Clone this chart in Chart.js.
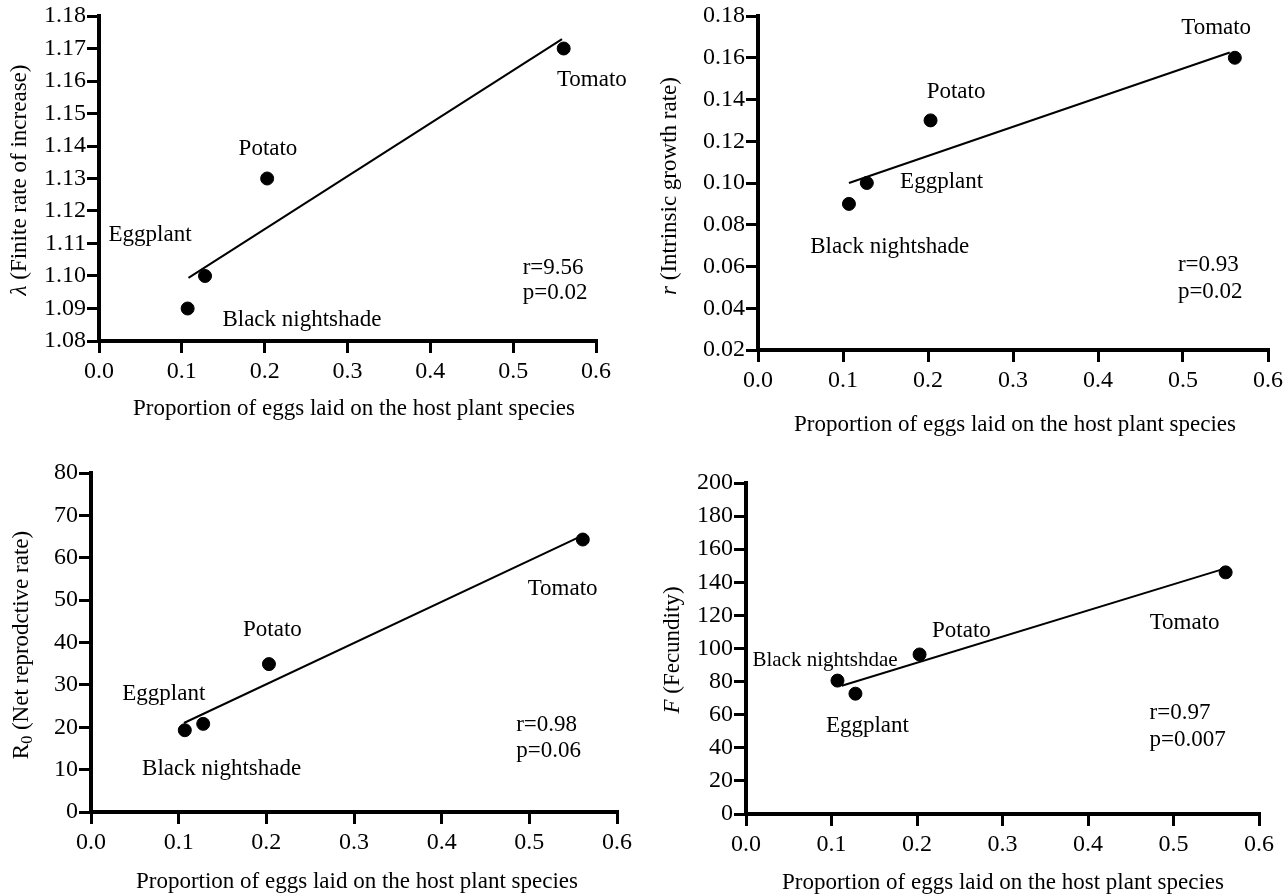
<!DOCTYPE html>
<html lang="en">
<head>
    <meta charset="UTF-8">
    <title>Oviposition preference vs life table parameters</title>
    <script src="https://cdn.jsdelivr.net/npm/chart.js@4.4.1/dist/chart.umd.min.js"></script>
    <style>
        body { margin: 0; background: #fff; }
        #wrap { position: relative; width: 1287px; height: 896px; }
        canvas { position: absolute; }
    </style>
</head>
<body>
<div id="wrap">
    <canvas id="c1" width="640" height="440" style="left:0;top:0"></canvas>
    <canvas id="c2" width="647" height="440" style="left:640px;top:0"></canvas>
    <canvas id="c3" width="640" height="446" style="left:0;top:450px"></canvas>
    <canvas id="c4" width="647" height="446" style="left:640px;top:450px"></canvas>
</div>
<script>
// host plants and proportion of eggs laid on each
var hosts = ['Black nightshade', 'Eggplant', 'Potato', 'Tomato'];
var eggProp = [0.107, 0.128, 0.203, 0.561];

// life table values per host
var lambdaVals = [1.09, 1.10, 1.13, 1.17];
var rVals = [0.09, 0.10, 0.13, 0.16];
var r0Vals = [19.3, 20.8, 34.9, 64.3];
var fecVals = [80.6, 72.7, 96.4, 146];

// fitted line end points
var lambdaFitX = [0.108, 0.559], lambdaFitY = [1.0994, 1.1729];
var rFitX = [0.107, 0.555], rFitY = [0.100, 0.1625];
var r0FitX = [0.106, 0.558], r0FitY = [21, 65];
var fecFitX = [0.112, 0.555], fecFitY = [77.5, 147.5];

// axis ranges [min, max, step]
var xRange = [0, 0.6, 0.1];
var lambdaRange = [1.08, 1.18, 0.01];
var rRange = [0.02, 0.18, 0.02];
var r0Range = [0, 80, 10];
var fecRange = [0, 200, 20];

var FONT = '"Liberation Serif", "Times New Roman", serif';
var xTitle = 'Proportion of eggs laid on the host plant species';

function pts(xs, ys) {
    return xs.map(function (x, i) { return {x: x, y: ys[i]}; });
}

// labels in data units + axis titles in canvas units
var textPlugin = {
    id: 'notes',
    afterDraw: function (chart) {
        var o = chart.options.plugins.notes;
        var ctx = chart.ctx;
        var xs = chart.scales.x, ys = chart.scales.y;
        ctx.save();
        ctx.fillStyle = '#000';
        ctx.textBaseline = 'middle';
        o.labels.forEach(function (l) {
            ctx.font = (l.size || 23) + 'px ' + FONT;
            ctx.textAlign = l.align || 'center';
            ctx.fillText(l.text, xs.getPixelForValue(l.x), ys.getPixelForValue(l.y));
        });

        ctx.font = '23px ' + FONT;
        ctx.textAlign = 'center';
        ctx.fillText(xTitle, o.xTitlePos[0], o.xTitlePos[1]);

        // y title, mixed italic / subscript
        var parts = o.yTitle;
        var total = 0;
        parts.forEach(function (p) {
            ctx.font = (p.italic ? 'italic ' : '') + (p.sub ? 16 : 23) + 'px ' + FONT;
            p.w = ctx.measureText(p.t).width;
            total += p.w;
        });
        ctx.translate(o.yTitlePos[0], o.yTitlePos[1]);
        ctx.rotate(-Math.PI / 2);
        var cx = -total / 2;
        ctx.textAlign = 'left';
        parts.forEach(function (p) {
            ctx.font = (p.italic ? 'italic ' : '') + (p.sub ? 16 : 23) + 'px ' + FONT;
            ctx.fillText(p.t, cx, p.sub ? 6 : 0);
            cx += p.w;
        });
        ctx.restore();
    }
};

function makeChart(id, vals, fitX, fitY, yr, dec, box, labels, yTitle, yTitlePos, xTitlePos) {
    var ctx = document.getElementById(id).getContext('2d');
    return new Chart(ctx, {
        type: 'scatter',
        data: {
            datasets: [{
                data: pts(eggProp, vals),
                pointRadius: 6.5,
                pointBorderWidth: 1,
                pointBackgroundColor: '#000',
                pointBorderColor: '#000',
                showLine: false
            }, {
                data: pts(fitX, fitY),
                showLine: true,
                borderColor: '#000',
                borderWidth: 2,
                pointRadius: 0
            }]
        },
        options: {
            responsive: false,
            animation: false,
            devicePixelRatio: 1,
            layout: { padding: { top: box.top, right: box.right, left: 0, bottom: 0 } },
            plugins: {
                legend: { display: false },
                tooltip: { enabled: false },
                notes: { labels: labels, yTitle: yTitle, yTitlePos: yTitlePos, xTitlePos: xTitlePos }
            },
            scales: {
                x: {
                    type: 'linear',
                    min: xRange[0], max: xRange[1],
                    afterFit: function (s) { s.height = box.bottom; },
                    ticks: {
                        stepSize: xRange[2], color: '#000', padding: 4,
                        font: { family: FONT, size: 24 },
                        callback: function (v) { return v.toFixed(1); }
                    },
                    grid: { drawOnChartArea: false, drawTicks: true, tickLength: 12, color: '#000', lineWidth: 3 },
                    border: { color: '#000', width: 4 }
                },
                y: {
                    type: 'linear',
                    min: yr[0], max: yr[1],
                    afterFit: function (s) { s.width = box.left; },
                    ticks: {
                        stepSize: yr[2], color: '#000', padding: 1,
                        font: { family: FONT, size: 24 },
                        callback: function (v) { return v.toFixed(dec); }
                    },
                    grid: { drawOnChartArea: false, drawTicks: true, tickLength: 12, color: '#000', lineWidth: 3 },
                    border: { color: '#000', width: 4 }
                }
            }
        },
        plugins: [textPlugin]
    });
}

makeChart('c1', lambdaVals, lambdaFitX, lambdaFitY, lambdaRange, 2,
    { left: 99, top: 16, right: 44, bottom: 99 },
    [
        { text: 'Tomato', x: 0.595, y: 1.1603 },
        { text: 'Potato', x: 0.204, y: 1.139 },
        { text: 'Eggplant', x: 0.0616, y: 1.1126 },
        { text: 'Black nightshade', x: 0.245, y: 1.0865 },
        { text: 'r=9.56', x: 0.5115, y: 1.1025, align: 'left' },
        { text: 'p=0.02', x: 0.5115, y: 1.0948, align: 'left' }
    ],
    [{ t: 'λ', italic: true }, { t: ' (Finite rate of increase)' }], [20, 180], [354, 409]);

makeChart('c2', rVals, rFitX, rFitY, rRange, 2,
    { left: 118, top: 16, right: 19, bottom: 90 },
    [
        { text: 'Tomato', x: 0.539, y: 0.1743 },
        { text: 'Potato', x: 0.233, y: 0.1436 },
        { text: 'Eggplant', x: 0.216, y: 0.1005 },
        { text: 'Black nightshade', x: 0.155, y: 0.0694 },
        { text: 'r=0.93', x: 0.494, y: 0.0607, align: 'left' },
        { text: 'p=0.02', x: 0.494, y: 0.0478, align: 'left' }
    ],
    [{ t: 'r', italic: true }, { t: ' (Intrinsic growth rate)' }], [30, 186], [375, 425]);

makeChart('c3', r0Vals, r0FitX, r0FitY, r0Range, 0,
    { left: 91, top: 23, right: 23, bottom: 84 },
    [
        { text: 'Tomato', x: 0.538, y: 52.6 },
        { text: 'Potato', x: 0.207, y: 42.9 },
        { text: 'Eggplant', x: 0.083, y: 27.8 },
        { text: 'Black nightshade', x: 0.149, y: 10.1 },
        { text: 'r=0.98', x: 0.485, y: 20.5, align: 'left' },
        { text: 'p=0.06', x: 0.485, y: 14.4, align: 'left' }
    ],
    [{ t: 'R' }, { t: '0', sub: true }, { t: ' (Net reprodctive rate)' }], [22, 195], [357, 432]);

makeChart('c4', fecVals, fecFitX, fecFitY, fecRange, 0,
    { left: 106, top: 33, right: 28, bottom: 82 },
    [
        { text: 'Tomato', x: 0.513, y: 115.7 },
        { text: 'Potato', x: 0.252, y: 110.8 },
        { text: 'Black nightshdae', x: 0.0924, y: 93 },
        { text: 'Eggplant', x: 0.142, y: 53 },
        { text: 'r=0.97', x: 0.472, y: 60.8, align: 'left' },
        { text: 'p=0.007', x: 0.472, y: 44.6, align: 'left' }
    ].map(function (l) { if (l.text === 'Black nightshdae') l.size = 21; return l; }),
    [{ t: 'F', italic: true }, { t: ' (Fecundity)' }], [33, 200], [363, 433]);
</script>
</body>
</html>
